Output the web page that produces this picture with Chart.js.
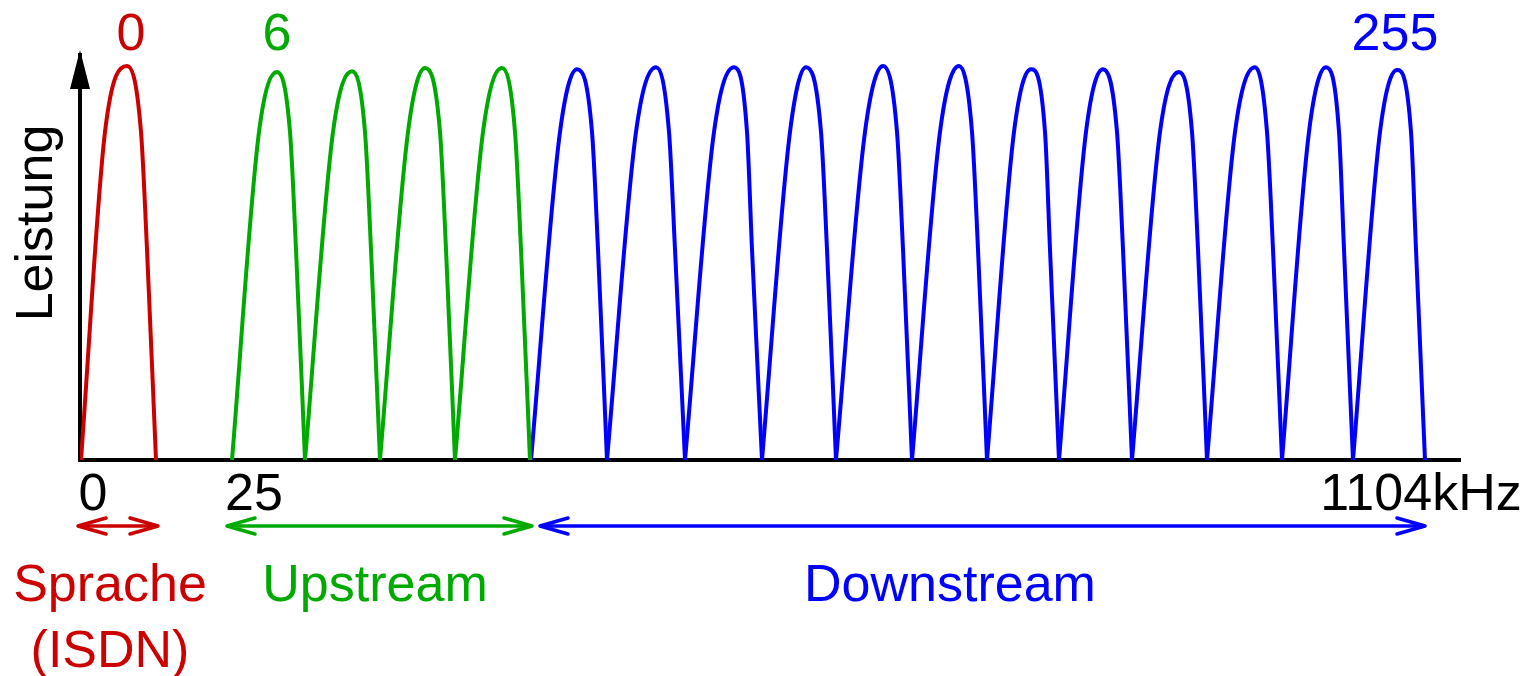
<!DOCTYPE html>
<html lang="de">
<head>
<meta charset="UTF-8">
<title>ADSL Frequenzbereiche</title>
<script src="https://cdn.jsdelivr.net/npm/chart.js@4.4.0/dist/chart.umd.min.js"></script>
<style>
  html, body { margin: 0; padding: 0; background: #fff; }
  #wrap { width: 1528px; height: 676px; }
</style>
</head>
<body>
<div id="wrap"><canvas id="spectrum" width="1528" height="676"></canvas></div>
<script>
// x positions are schematic drawing units along the frequency axis (0 = power axis, 1380 = end of axis)
// each arch: start, left shoulder, peak, right shoulder, lower right shoulder, end
const archX = [
  [1, 25, 47, 61, 67, 76],
  [152, 179, 197, 210, 216, 225],
  [225, 253, 272, 285, 291, 300],
  [300, 328, 345, 360, 366, 375],
  [375, 403, 422, 435, 441, 450],
  [451, 480, 497, 512, 518, 527],
  [527, 556, 576, 589, 595, 605],
  [605, 634, 654, 667, 672, 682],
  [682, 710, 726, 741, 747, 756],
  [756, 785, 803, 817, 823, 832],
  [832, 860, 879, 892, 898, 907],
  [907, 934, 951, 965, 970, 979],
  [979, 1006, 1023, 1037, 1043, 1052],
  [1052, 1080, 1099, 1112, 1118, 1127],
  [1127, 1155, 1175, 1187, 1193, 1202],
  [1202, 1229, 1246, 1259, 1264, 1273],
  [1273, 1300, 1317, 1331, 1336, 1345]
];
// relative power at the top of each arch (0..100)
const archPeak = [97.3, 95.8, 96.0, 96.8, 96.8, 96.5, 97.0, 97.0, 97.0, 97.3, 97.3, 96.5, 96.5, 95.8, 97.0, 97.0, 96.3];
const shoulderHigh = 81;
const shoulderLow = 52;
// 0 = Sprache, 1 = Upstream, 2 = Downstream
const archBand = [0, 1, 1, 1, 1, 2, 2, 2, 2, 2, 2, 2, 2, 2, 2, 2, 2];

const bandNames = [['Sprache', '(ISDN)'], ['Upstream'], ['Downstream']];
const bandFrom = [-2, 147, 460];
const bandTo = [78, 452, 1345];
const bandLabelAt = [30, 295, 870];

const binLabels = ['0', '6', '255'];
const binLabelAt = [51, 197, 1315];

const tickValues = [13, 174, 1341];
const tickLabels = ['0', '25', '1104kHz'];

const bandColors = ['#cc0000', '#00aa00', '#0000ff'];
const FONT = '52px "Liberation Sans", Arial, sans-serif';

const datasets = archX.map((xs, i) => {
  const ys = [0, shoulderHigh, archPeak[i], shoulderHigh, shoulderLow, 0];
  return {
    data: xs.map((x, k) => ({ x: x, y: ys[k] })),
    borderColor: bandColors[archBand[i]],
    borderWidth: 4,
    pointRadius: 0,
    cubicInterpolationMode: 'monotone',
    fill: false
  };
});

function chevron(ctx, tipX, y, dir) {
  ctx.beginPath();
  ctx.moveTo(tipX - dir * 28, y - 8);
  ctx.lineTo(tipX, y);
  ctx.lineTo(tipX - dir * 28, y + 8);
  ctx.stroke();
}

const spectrumDecor = {
  id: 'spectrumDecor',
  afterDraw(chart) {
    const { ctx, chartArea, scales: { x } } = chart;
    ctx.save();

    // arrow head on the power axis
    ctx.fillStyle = '#000';
    ctx.beginPath();
    ctx.moveTo(chartArea.left, chartArea.top - 5);
    ctx.lineTo(chartArea.left - 10, chartArea.top + 34);
    ctx.lineTo(chartArea.left + 10, chartArea.top + 34);
    ctx.closePath();
    ctx.fill();

    ctx.font = FONT;
    ctx.textAlign = 'center';
    ctx.textBaseline = 'alphabetic';

    // axis title
    ctx.save();
    ctx.translate(chartArea.left - 28, chartArea.top + 168);
    ctx.rotate(-Math.PI / 2);
    ctx.fillText('Leistung', 0, 0);
    ctx.restore();

    // carrier numbers above the arches
    binLabels.forEach((t, i) => {
      ctx.fillStyle = bandColors[i];
      ctx.fillText(t, x.getPixelForValue(binLabelAt[i]), chartArea.top - 5);
    });

    // band ranges and names
    const ay = chartArea.bottom + 66;
    ctx.lineWidth = 3.5;
    ctx.lineJoin = 'round';
    ctx.lineCap = 'round';
    bandNames.forEach((lines, i) => {
      const x0 = x.getPixelForValue(bandFrom[i]);
      const x1 = x.getPixelForValue(bandTo[i]);
      ctx.strokeStyle = bandColors[i];
      ctx.beginPath();
      ctx.moveTo(x0 + 2, ay);
      ctx.lineTo(x1 - 2, ay);
      ctx.stroke();
      chevron(ctx, x0, ay, -1);
      chevron(ctx, x1, ay, 1);

      ctx.fillStyle = bandColors[i];
      const cx = x.getPixelForValue(bandLabelAt[i]);
      lines.forEach((t, k) => {
        ctx.fillText(t, cx, chartArea.bottom + 141 + k * 66);
      });
    });

    ctx.restore();
  }
};

new Chart(document.getElementById('spectrum'), {
  type: 'line',
  data: { datasets: datasets },
  options: {
    responsive: false,
    animation: false,
    layout: { padding: { top: 55, right: 68, bottom: 0, left: 0 } },
    plugins: {
      legend: { display: false },
      tooltip: { enabled: false }
    },
    scales: {
      x: {
        type: 'linear',
        min: 0,
        max: 1380,
        grid: { display: false, drawTicks: false },
        border: { display: true, color: '#000', width: 4 },
        afterBuildTicks(scale) {
          scale.ticks = tickValues.map(v => ({ value: v }));
        },
        afterFit(scale) {
          scale.height = 216;
          scale.paddingLeft = 0;
          scale.paddingRight = 0;
        },
        ticks: {
          autoSkip: false,
          maxRotation: 0,
          padding: 4,
          color: '#000',
          font: { family: '"Liberation Sans", Arial, sans-serif', size: 52 },
          callback: (v, i) => tickLabels[i]
        }
      },
      y: {
        min: 0,
        max: 100,
        grid: { display: false, drawTicks: false },
        border: { display: true, color: '#000', width: 4 },
        ticks: { display: false },
        afterFit(scale) {
          scale.width = 80;
          scale.paddingTop = 0;
          scale.paddingBottom = 0;
        }
      }
    }
  },
  plugins: [spectrumDecor]
});
</script>
</body>
</html>
